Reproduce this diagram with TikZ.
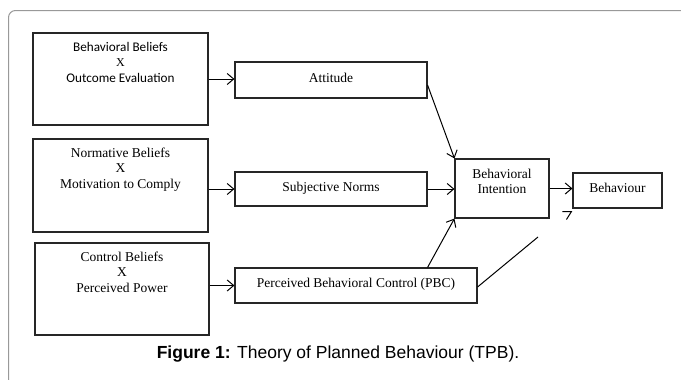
\documentclass[tikz,border=0pt]{standalone}
\usepackage{fontspec}
\setmainfont{Liberation Serif}
\newfontfamily\calib{Carlito}
\newfontfamily\arialf{Liberation Sans}
\usetikzlibrary{arrows.meta,calc}
\begin{document}
\begin{tikzpicture}[x=1pt,y=-1pt,
  box/.style={draw=black!85,line width=1.1pt,inner sep=0pt,rectangle},
  txt/.style={font=\fontsize{13.5}{15}\selectfont,anchor=base,inner sep=0pt},
  ctxt/.style={font=\calib\fontsize{13.2}{15}\selectfont,anchor=base,inner sep=0pt},
  conn/.style={line width=1pt,-{Straight Barb[length=6.5pt,width=11pt]}},
  plain/.style={line width=1pt},
]
\useasboundingbox (0,0) rectangle (681,380);
% frame
\draw[black!40,line width=1pt,rounded corners=7pt] (8.5,380) -- (8.5,10.5) -- (681,10.5);

% boxes
\node[box,minimum width=175pt,minimum height=92pt] (b1) at (120.5,79) {};
\node[box,minimum width=175pt,minimum height=93pt] (b2) at (120.5,185.5) {};
\node[box,minimum width=174pt,minimum height=92pt] (b3) at (122,289) {};
\node[box,minimum width=192pt,minimum height=36pt] (att) at (331,80) {};
\node[box,minimum width=192pt,minimum height=34pt] (sn) at (331,189) {};
\node[box,minimum width=94pt,minimum height=59pt] (int) at (502,188.5) {};
\node[box,minimum width=89pt,minimum height=35pt] (beh) at (617.5,190.5) {};
\node[box,minimum width=242pt,minimum height=35pt] (pbc) at (356,285.5) {};

% texts
\node[ctxt] (t1a) at ($(b1.north)+(0,19)$) {Behavioral Beliefs};
\node[txt,font=\fontsize{12}{14}\selectfont] (t1b) at ($(b1.north)+(0,34.5)$) {X};
\node[ctxt] (t1c) at ($(b1.north)+(0,50)$) {Outcome Evaluation};

\node[txt] (t2a) at ($(b2.north)+(0,19)$) {Normative Beliefs};
\node[txt] (t2b) at ($(b2.north)+(0,34.5)$) {X};
\node[txt] (t2c) at ($(b2.north)+(0,50)$) {Motivation to Comply};

\node[txt] (t3a) at ($(b3.north)+(0,19)$) {Control Beliefs};
\node[txt] (t3b) at ($(b3.north)+(0,34.5)$) {X};
\node[txt] (t3c) at ($(b3.north)+(0,50)$) {Perceived Power};

\node[txt] (tatt) at ($(att.center)+(0,2)$) {Attitude};
\node[txt] (tsn) at ($(sn.center)+(0,2)$) {Subjective Norms};
\node[txt] (tpbc) at ($(pbc.center)+(0,2)$) {Perceived Behavioral Control (PBC)};
\node[txt] (tbeh) at ($(beh.center)+(0,1.5)$) {Behaviour};
\node[txt] (tint1) at ($(int.center)+(0,-10)$) {Behavioral};
\node[txt] (tint2) at ($(int.center)+(0,4.5)$) {Intention};

% connectors
\draw[conn] (b1.east) -- (b1.east -| att.west);
\draw[conn] (b2.east |- sn.west) -- (sn.west);
\draw[conn] (b3.east |- pbc.west) -- (pbc.west);
\draw[conn] ($(att.east)+(0,5)$) -- (int.north west);
\draw[conn] (sn.east) -- (sn.east -| int.west);
\draw[conn] (att.east |- pbc.north) -- (int.south west);
\draw[conn] (int.east) -- (int.east -| beh.west);
\coordinate (pend) at (538,237);
\draw[plain] ($(pbc.east)+(0,1.5)$) -- (pend);
\coordinate (tip) at ($(beh.south west)+(-1,3)$);
\draw[plain] ($(tip)+(-9,0)$) -- (tip) -- ($(tip)+(-5,8)$);

% caption
\node[font=\arialf\fontsize{17.5}{20}\selectfont,anchor=base,inner sep=0pt] (cap) at (338,358) {\textbf{Figure 1:} Theory of Planned Behaviour (TPB).};
\end{tikzpicture}
\end{document}
